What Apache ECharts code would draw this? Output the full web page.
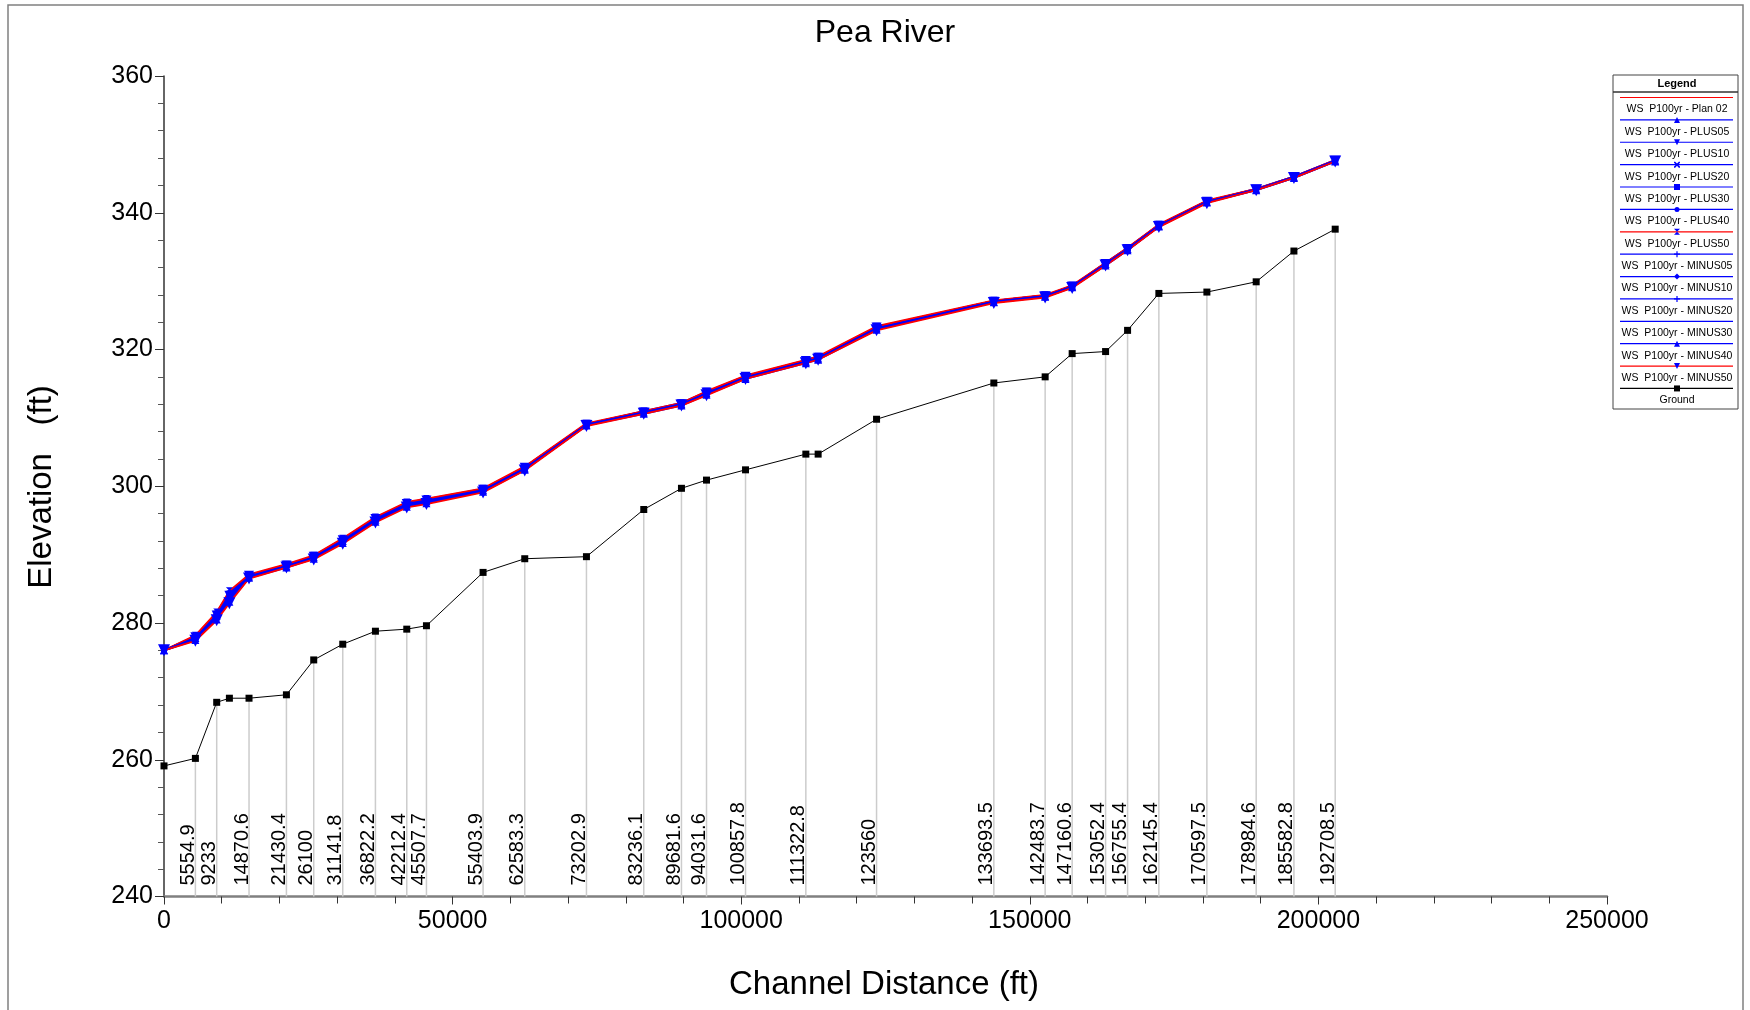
<!DOCTYPE html>
<html>
<head>
<meta charset="utf-8">
<title>Pea River</title>
<script src="https://cdn.jsdelivr.net/npm/echarts@6/dist/echarts.min.js"></script>
<style>
  html, body { margin: 0; padding: 0; background: #ffffff; }
  #chart { width: 1750px; height: 1010px; }
</style>
</head>
<body>
<div id="chart"></div>
<script>
// Channel distance of each cross section (ft)
const stationDist = [0, 5440, 9130, 11330, 14730, 21210, 25940, 30970, 36630, 42060, 45470,
  55280, 62500, 73190, 83120, 89650, 93990, 100750, 111200, 113330, 123450,
  143770, 152660, 157340, 163130, 166940, 172360, 180680, 189220, 195760, 202910];

// River station labels ('' = section without a label)
const stationLabels = ['', '5554.9', '9233', '', '14870.6', '21430.4', '26100', '31141.8', '36822.2', '42212.4', '45507.7',
  '55403.9', '62583.3', '73202.9', '83236.1', '89681.6', '94031.6', '100857.8', '111322.8', '', '123560',
  '133693.5', '142483.7', '147160.6', '153052.4', '156755.4', '162145.4', '170597.5', '178984.6', '185582.8', '192708.5'];

// Channel invert elevation (ft)
const groundElev = [259.1, 260.2, 268.4, 269.0, 269.0, 269.5, 274.6, 276.9, 278.8, 279.1, 279.6,
  287.4, 289.4, 289.7, 296.6, 299.7, 300.9, 302.4, 304.7, 304.7, 309.8,
  315.1, 316.0, 319.4, 319.7, 322.8, 328.2, 328.4, 329.9, 334.4, 337.6];

// Water surface profiles, 100-yr event (ft)
const wsPlan02 = [276.0, 277.8, 281.0, 283.8, 286.8, 288.3, 289.6, 292.0, 295.1, 297.3, 297.8, 299.4, 302.6, 309.0, 310.8, 312.0, 313.6, 315.9, 318.2, 318.7, 323.1, 327.0, 327.8, 329.2, 332.5, 334.7, 338.1, 341.6, 343.4, 345.2, 347.6];
const wsPlus05  = [276.0, 277.8, 281.1, 283.9, 286.8, 288.3, 289.6, 292.0, 295.1, 297.3, 297.8, 299.4, 302.6, 309.0, 310.8, 312.0, 313.6, 315.9, 318.2, 318.7, 323.1, 327.0, 327.8, 329.2, 332.5, 334.7, 338.1, 341.6, 343.4, 345.2, 347.6];
const wsPlus10  = [276.0, 277.9, 281.1, 284.0, 286.9, 288.4, 289.7, 292.1, 295.2, 297.4, 297.9, 299.5, 302.7, 309.0, 310.8, 312.0, 313.7, 316.0, 318.3, 318.8, 323.2, 327.0, 327.8, 329.2, 332.5, 334.7, 338.1, 341.6, 343.4, 345.2, 347.6];
const wsPlus20  = [276.0, 278.0, 281.2, 284.2, 286.9, 288.4, 289.7, 292.2, 295.3, 297.5, 298.0, 299.5, 302.7, 309.1, 310.9, 312.1, 313.7, 316.0, 318.3, 318.8, 323.2, 327.1, 327.9, 329.3, 332.6, 334.8, 338.2, 341.7, 343.4, 345.2, 347.6];
const wsPlus30  = [276.0, 278.0, 281.4, 284.3, 287.0, 288.5, 289.8, 292.2, 295.3, 297.5, 298.0, 299.6, 302.8, 309.1, 310.9, 312.1, 313.8, 316.1, 318.4, 318.9, 323.3, 327.1, 327.9, 329.3, 332.6, 334.8, 338.2, 341.7, 343.5, 345.3, 347.7];
const wsPlus40  = [276.0, 278.1, 281.5, 284.5, 287.0, 288.5, 289.8, 292.3, 295.4, 297.6, 298.1, 299.6, 302.8, 309.1, 311.0, 312.2, 313.8, 316.1, 318.4, 318.9, 323.3, 327.1, 327.9, 329.3, 332.7, 334.9, 338.2, 341.7, 343.5, 345.3, 347.7];
const wsPlus50  = [276.0, 278.2, 281.6, 284.7, 287.1, 288.6, 289.9, 292.4, 295.5, 297.7, 298.2, 299.7, 302.9, 309.2, 311.0, 312.2, 313.9, 316.2, 318.5, 319.0, 323.4, 327.2, 328.0, 329.4, 332.7, 334.9, 338.3, 341.8, 343.5, 345.3, 347.7];
const wsMinus05 = [276.0, 277.8, 280.9, 283.7, 286.8, 288.3, 289.6, 292.0, 295.1, 297.3, 297.8, 299.4, 302.6, 309.0, 310.8, 312.0, 313.6, 315.9, 318.2, 318.7, 323.1, 327.0, 327.8, 329.2, 332.5, 334.7, 338.1, 341.6, 343.4, 345.2, 347.6];
const wsMinus10 = [276.0, 277.7, 280.9, 283.6, 286.7, 288.3, 289.5, 291.9, 295.0, 297.2, 297.7, 299.3, 302.5, 309.0, 310.8, 312.0, 313.5, 315.9, 318.2, 318.7, 323.0, 327.0, 327.8, 329.2, 332.5, 334.7, 338.1, 341.6, 343.4, 345.2, 347.6];
const wsMinus20 = [276.0, 277.6, 280.8, 283.4, 286.7, 288.2, 289.5, 291.8, 294.9, 297.1, 297.6, 299.3, 302.5, 308.9, 310.7, 311.9, 313.5, 315.8, 318.1, 318.6, 323.0, 326.9, 327.7, 329.1, 332.4, 334.6, 338.0, 341.5, 343.4, 345.2, 347.6];
const wsMinus30 = [276.0, 277.6, 280.6, 283.3, 286.6, 288.2, 289.4, 291.8, 294.9, 297.1, 297.6, 299.2, 302.4, 308.9, 310.7, 311.9, 313.4, 315.8, 318.1, 318.6, 322.9, 326.9, 327.7, 329.1, 332.4, 334.6, 338.0, 341.5, 343.3, 345.1, 347.5];
const wsMinus40 = [276.0, 277.5, 280.5, 283.1, 286.6, 288.1, 289.4, 291.7, 294.8, 297.0, 297.5, 299.2, 302.4, 308.9, 310.6, 311.8, 313.4, 315.7, 318.0, 318.5, 322.9, 326.9, 327.7, 329.1, 332.3, 334.5, 338.0, 341.5, 343.3, 345.1, 347.5];
const wsMinus50 = [276.0, 277.4, 280.4, 282.9, 286.5, 288.1, 289.3, 291.6, 294.7, 296.9, 297.4, 299.1, 302.3, 308.8, 310.6, 311.8, 313.3, 315.7, 318.0, 318.5, 322.8, 326.8, 327.6, 329.0, 332.3, 334.5, 337.9, 341.4, 343.3, 345.1, 347.5];

// Axis ticks
const xTicks = [0, 50000, 100000, 150000, 200000, 250000];
const yTicks = [240, 260, 280, 300, 320, 340, 360];

// Marker outlines on a 10x10 unit box
const SHAPES = {
  triUp:     [[5, 0], [10, 10], [0, 10]],
  triDown:   [[0, 0], [10, 0], [5, 10]],
  cross:     [[0, 0], [2, 0], [5, 3], [8, 0], [10, 0], [10, 2], [7, 5], [10, 8], [10, 10], [8, 10], [5, 7], [2, 10], [0, 10], [0, 8], [3, 5], [0, 2]],
  square:    [[0, 0], [10, 0], [10, 10], [0, 10]],
  hourglass: [[0, 0], [10, 0], [5, 5], [10, 10], [0, 10], [5, 5]],
  plus:      [[4, 0], [6, 0], [6, 4], [10, 4], [10, 6], [6, 6], [6, 10], [4, 10], [4, 6], [0, 6], [0, 4], [4, 4]],
  diamond:   [[5, 0], [10, 5], [5, 10], [0, 5]]
};
function symbolOf(key) {
  if (key === 'none' || key === 'circle') return key;
  return 'path://' + SHAPES[key].map((p, i) => (i ? 'L' : 'M') + p[0] + ',' + p[1]).join('') + 'Z';
}
const RED = '#ff0000', BLUE = '#0000ff';

const profiles = [
  { name: 'WS  P100yr - Plan 02', data: wsPlan02,  line: RED,  sym: 'none',      size: 0 },
  { name: 'WS  P100yr - PLUS05',  data: wsPlus05,  line: BLUE, sym: 'triUp',     size: 8 },
  { name: 'WS  P100yr - PLUS10',  data: wsPlus10,  line: BLUE, sym: 'triDown',   size: 10 },
  { name: 'WS  P100yr - PLUS20',  data: wsPlus20,  line: BLUE, sym: 'cross',     size: 6 },
  { name: 'WS  P100yr - PLUS30',  data: wsPlus30,  line: BLUE, sym: 'square',    size: 6 },
  { name: 'WS  P100yr - PLUS40',  data: wsPlus40,  line: BLUE, sym: 'circle',    size: 5 },
  { name: 'WS  P100yr - PLUS50',  data: wsPlus50,  line: RED,  sym: 'hourglass', size: 7 },
  { name: 'WS  P100yr - MINUS05', data: wsMinus05, line: BLUE, sym: 'plus',      size: 6 },
  { name: 'WS  P100yr - MINUS10', data: wsMinus10, line: BLUE, sym: 'diamond',   size: 6 },
  { name: 'WS  P100yr - MINUS20', data: wsMinus20, line: BLUE, sym: 'plus',      size: 6 },
  { name: 'WS  P100yr - MINUS30', data: wsMinus30, line: BLUE, sym: 'none',      size: 0 },
  { name: 'WS  P100yr - MINUS40', data: wsMinus40, line: BLUE, sym: 'triUp',     size: 8 },
  { name: 'WS  P100yr - MINUS50', data: wsMinus50, line: RED,  sym: 'triDown',   size: 12 }
];

const FONT = '"Liberation Sans", Arial, sans-serif';

const pairs = (ys) => stationDist.map((x, i) => [x, ys[i]]);

const series = [];

// Station drop lines and river-station labels
const labeledStations = [];
stationLabels.forEach((lab, i) => { if (lab) labeledStations.push([stationDist[i], groundElev[i], i]); });
series.push({
  type: 'custom',
  name: 'stations',
  silent: true,
  z: 1,
  data: labeledStations,
  encode: { x: 0, y: 1 },
  renderItem: function (params, api) {
    const x = api.value(0), g = api.value(1);
    const idx = labeledStations[params.dataIndex][2];
    const top = api.coord([x, g]);
    const bot = api.coord([x, 240]);
    return {
      type: 'group',
      children: [
        { type: 'line', shape: { x1: top[0], y1: top[1], x2: bot[0], y2: bot[1] },
          style: { stroke: '#cccccc', lineWidth: 1.5 } },
        { type: 'text', x: top[0] + 3, y: bot[1] - 11, rotation: Math.PI / 2,
          style: { text: stationLabels[idx], font: '20px ' + FONT, fill: '#000000',
                   align: 'left', verticalAlign: 'bottom' } }
      ]
    };
  }
});

profiles.forEach((p) => {
  series.push({
    type: 'line',
    name: p.name,
    data: pairs(p.data),
    z: 3,
    lineStyle: { color: p.line, width: 1.8 },
    itemStyle: { color: BLUE, borderWidth: 0 },
    symbol: symbolOf(p.sym),
    symbolSize: p.size,
    showSymbol: p.sym !== 'none',
    animation: false
  });
});

series.push({
  type: 'line',
  name: 'Ground',
  data: pairs(groundElev),
  z: 4,
  lineStyle: { color: '#000000', width: 1 },
  itemStyle: { color: '#000000', borderWidth: 0 },
  symbol: 'rect',
  symbolSize: 7,
  animation: false
});

// Legend box built from the profile list
const legendEntries = profiles.map(p => ({ name: p.name, line: p.line, sym: p.sym, color: BLUE }))
  .concat([{ name: 'Ground', line: '#000000', sym: 'square', color: '#000000' }]);
const LX0 = 1613, LX1 = 1738, LY0 = 75, LY1 = 409, LCX = 1677;
const legendEls = [
  { type: 'rect', shape: { x: LX0, y: LY0, width: LX1 - LX0, height: LY1 - LY0 },
    style: { fill: '#ffffff', stroke: '#444444', lineWidth: 1 } },
  { type: 'line', shape: { x1: LX0, y1: 92, x2: LX1, y2: 92 }, style: { stroke: '#333333', lineWidth: 1.5 } },
  { type: 'text', x: LCX, y: 84, style: { text: 'Legend', font: 'bold 11px ' + FONT, fill: '#000',
    align: 'center', verticalAlign: 'middle' } }
];
legendEntries.forEach((e, i) => {
  const ly = 97.5 + i * 22.38;
  legendEls.push({ type: 'line', shape: { x1: 1620, y1: ly, x2: 1733, y2: ly },
    style: { stroke: e.line, lineWidth: 1.2 } });
  if (e.sym === 'circle') {
    legendEls.push({ type: 'circle', shape: { cx: LCX, cy: ly, r: 2.5 }, style: { fill: e.color } });
  } else if (e.sym !== 'none') {
    const s = 0.6;
    legendEls.push({ type: 'polygon',
      shape: { points: SHAPES[e.sym].map(p => [LCX - 3 + p[0] * s, ly - 3 + p[1] * s]) },
      style: { fill: e.color } });
  }
  legendEls.push({ type: 'text', x: LCX, y: ly + 12, style: { text: e.name, font: '10.5px ' + FONT,
    fill: '#000', align: 'center', verticalAlign: 'middle' } });
});

const chart = echarts.init(document.getElementById('chart'), null, { renderer: 'canvas' });
chart.setOption({
  animation: false,
  backgroundColor: '#ffffff',
  grid: { left: 164, right: 143, top: 76, bottom: 113.5, containLabel: false },
  xAxis: {
    type: 'value',
    min: xTicks[0], max: xTicks[xTicks.length - 1], interval: xTicks[1] - xTicks[0],
    axisLine: { show: true, onZero: false, lineStyle: { color: '#808080', width: 2.5 } },
    axisTick: { show: true, length: 8, lineStyle: { color: '#333333', width: 1 } },
    minorTick: { show: true, splitNumber: 5, length: 7, lineStyle: { color: '#333333', width: 1 } },
    splitLine: { show: false },
    axisLabel: { fontSize: 25, fontFamily: FONT, color: '#000000', margin: 12,
                 formatter: (v) => String(v) }
  },
  yAxis: {
    type: 'value',
    min: yTicks[0], max: yTicks[yTicks.length - 1], interval: yTicks[1] - yTicks[0],
    axisLine: { show: true, onZero: false, lineStyle: { color: '#333333', width: 1.5 } },
    axisTick: { show: true, length: 9, lineStyle: { color: '#333333', width: 1 } },
    minorTick: { show: true, splitNumber: 5, length: 6, lineStyle: { color: '#555555', width: 1 } },
    splitLine: { show: false },
    axisLabel: { fontSize: 25, fontFamily: FONT, color: '#000000', margin: 11,
                 formatter: (v) => String(v) }
  },
  graphic: [
    { type: 'rect', silent: true, shape: { x: 8, y: 5, width: 1735, height: 1020 },
      style: { fill: 'none', stroke: '#808080', lineWidth: 1.5 } },
    { type: 'text', x: 885, y: 33, style: { text: 'Pea River', font: '32px ' + FONT, fill: '#000',
      align: 'center', verticalAlign: 'middle' } },
    { type: 'text', x: 884, y: 985, style: { text: 'Channel Distance (ft)', font: '33px ' + FONT, fill: '#000',
      align: 'center', verticalAlign: 'middle' } },
    { type: 'text', x: 42, y: 487, rotation: Math.PI / 2, style: { text: 'Elevation   (ft)', font: '33px ' + FONT,
      fill: '#000', align: 'center', verticalAlign: 'middle' } },
    { type: 'group', children: legendEls }
  ],
  series: series
});
</script>
</body>
</html>
